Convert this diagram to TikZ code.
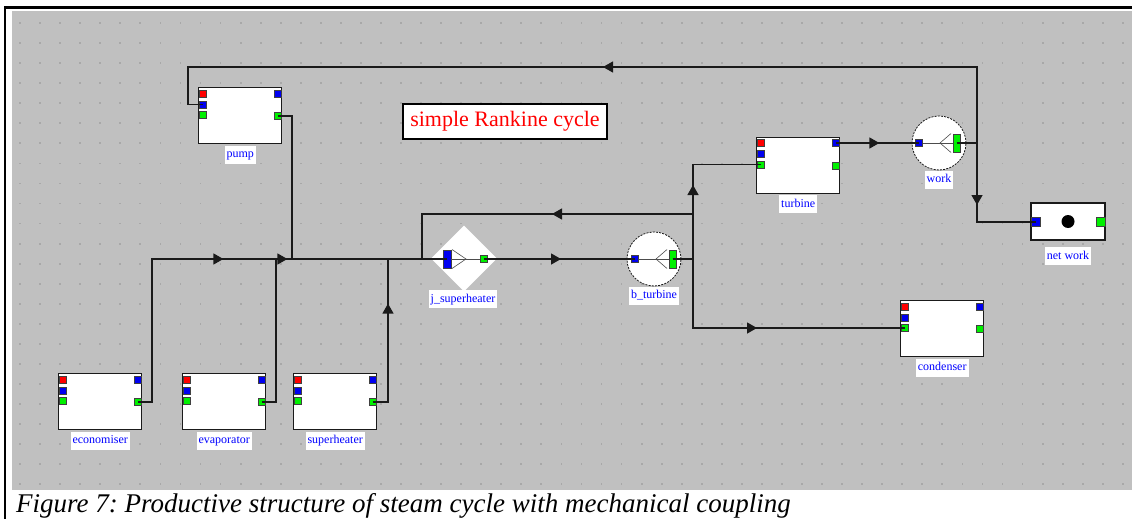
\documentclass[tikz,border=0pt]{standalone}
\usepackage{fontspec}
\setmainfont{Liberation Serif}
\usetikzlibrary{arrows.meta,decorations.markings,shapes.geometric}

\definecolor{canvas}{HTML}{C0C0C0}
\definecolor{griddot}{HTML}{A8A8A8}
\definecolor{pred}{HTML}{FF0000}
\definecolor{pblue}{HTML}{0000F0}
\definecolor{pgreen}{HTML}{00F000}
\definecolor{wire}{HTML}{1A1A1A}
\definecolor{lblue}{HTML}{0000FF}

\tikzset{
  unit/.style={draw=wire, line width=1.4pt, fill=white, minimum width=83pt,
    minimum height=56pt, inner sep=0pt, anchor=north west},
  port/.style={draw=black!75, line width=0.7pt, minimum width=7pt,
    minimum height=7pt, inner sep=0pt},
  redport/.style={port, fill=pred},
  blueport/.style={port, fill=pblue},
  greenport/.style={port, fill=pgreen},
  tallport/.style={port, minimum height=18pt},
  lbl/.style={fill=white, text=lblue, font=\fontsize{12}{12}\selectfont,
    inner xsep=2pt, inner ysep=3pt, text height=9pt, text depth=3pt, anchor=north},
  wireline/.style={draw=wire, line width=1.3pt},
  thinstroke/.style={draw=black!70, line width=0.6pt},
  flowat/.style={postaction={decorate, decoration={markings,
    mark=at position #1pt with {\arrow{Triangle[length=10pt,width=11pt]}}}}},
  splitter/.style={circle, draw=wire, line width=0.8pt, dash pattern=on 2pt off 1.2pt,
    fill=white, minimum size=54pt, inner sep=0pt},
}

% process unit: white box with three inlet and two outlet ports, and its name below
\newcommand\drawunit[4]{%
  \node[unit] (#1) at (#2,#3) {};
  \node[redport]   (#1-r)  at ([shift={(4.5,6.5)}]#1.north west) {};
  \node[blueport]  (#1-b)  at ([shift={(4.5,17.5)}]#1.north west) {};
  \node[greenport] (#1-g)  at ([shift={(4.5,28)}]#1.north west) {};
  \node[blueport]  (#1-ob) at ([shift={(-4.5,6.5)}]#1.north east) {};
  \node[greenport] (#1-og) at ([shift={(-4.5,29)}]#1.north east) {};
  \node[lbl] (#1-lbl) at ([yshift=-1pt]#1.south) {#4};
}

\begin{document}
\begin{tikzpicture}[x=1pt,y=-1pt]
\useasboundingbox (0,0) rectangle (1132,519);
\fill[white] (0,0) rectangle (1132,519);
\fill[canvas] (12,11) rectangle (1132,490);
\draw[black, line width=2.6pt] (5,519) -- (5,7.5) -- (1132,7.5);

% grid dots of the editor canvas
\foreach \i in {1,...,56}
  \foreach \j in {1,...,24}
    \fill[griddot] ({20.05*\i-0.9},{3+20.05*\j-0.9}) rectangle ++(1.8,1.8);

% process units
\drawunit{pump}{198}{87}{pump}
\drawunit{eco}{58}{373}{economiser}
\drawunit{evap}{182}{373}{evaporator}
\drawunit{sheat}{293}{373}{superheater}
\drawunit{turb}{756}{136.5}{turbine}
\drawunit{cond}{900}{300}{condenser}

% junction j_superheater
\node[diamond, fill=white, minimum width=66pt, minimum height=66pt, inner sep=0pt] (jsh) at (464,258.5) {};
\node[tallport, fill=pblue, minimum width=8pt] (jsh-in) at (447,259) {};
\node[greenport] (jsh-out) at (484,259) {};
\draw[thinstroke] (jsh-in.east) -- (jsh-out.west);
\draw[thinstroke] (452,249.5) -- (466,259) -- (452,268.5);
\node[lbl] (jsh-lbl) at (463,290) {j\_superheater};

% branch b_turbine
\node[splitter] (bt) at (654,259) {};
\node[blueport] (bt-in) at (634.5,259) {};
\node[tallport, fill=pgreen] (bt-out) at (672.5,259) {};
\draw[thinstroke] (bt-in.east) -- (bt-out.west);
\draw[thinstroke] (667,249.5) -- (656,259) -- (667,268.5);
\node[lbl] (bt-lbl) at (bt.south) {b\_turbine};

% branch work
\node[splitter] (work) at (939,143) {};
\node[blueport] (work-in) at (919,143) {};
\node[tallport, fill=pgreen] (work-out) at (956.5,143) {};
\draw[thinstroke] (work-in.east) -- (work-out.west);
\draw[thinstroke] (951,133.5) -- (940,143) -- (951,152.5);
\node[lbl] (work-lbl) at (work.south) {work};

% net work sink
\node[draw=wire, line width=1.4pt, fill=white, minimum width=74pt, minimum height=37pt, inner sep=0pt] (nw) at (1068,221.5) {};
\node[blueport, minimum size=9pt] (nw-in) at (1035.5,222) {};
\node[greenport, minimum size=9pt] (nw-out) at (1100.5,222) {};
\fill[black] (nw.center) circle (6.5);
\node[lbl] (nw-lbl) at (1068,247) {net work};

% title
\node[draw=black, line width=1.3pt, fill=white, minimum width=204pt, minimum height=35pt,
  inner sep=0pt, text=pred, font=\fontsize{22}{22}\selectfont] (title) at (505,121.5) {simple Rankine cycle};

% bend and junction points of the flow lines
\coordinate (mix) at (292,259);
\coordinate (ecoup) at (152,259);
\coordinate (evapup) at (276,259);
\coordinate (shin) at (388,259);
\coordinate (split) at (693,259);
\coordinate (ret) at (693,214);
\coordinate (retin) at (422,259);
\coordinate (wsplit) at (977,143);
\coordinate (ctop) at (977,67);
\coordinate (cleft) at (188,67);

% flows into the header
\draw[wireline, flowat=228.5] (eco-og.center) -| (ecoup) -- (mix);
\draw[wireline, flowat=168.5] (evap-og.center) -| (evapup) -- (mix);
\draw[wireline, flowat=113.5] (sheat-og.center) -| (shin);
\draw[wireline, flowat=158] (pump-og.center) -| (mix);
\draw[wireline] (mix) -- (jsh-in.center);

% superheated steam to the turbine branch
\draw[wireline, flowat=77] (jsh-out.center) -- (bt-in.center);
\draw[wireline, flowat=94.5] (bt-out.center) -- (split) |- (turb-g.center);
\draw[wireline, flowat=153.5] (bt-out.center) -- (split) |- (cond-g.center);
\draw[wireline, flowat=141] (ret) -| (retin);

% mechanical work
\draw[wireline, flowat=43.5] (turb-ob.center) -- (work-in.center);
\draw[wireline, flowat=470.5] (work-out.center) -- (wsplit) -- (ctop) -- (cleft) |- (pump-b.center);
\draw[wireline, flowat=82.5] (work-out.center) -- (wsplit) |- (nw-in.center);

% caption
\node[anchor=base west, inner sep=0pt, font=\fontsize{27}{27}\selectfont\itshape\frenchspacing] (caption) at (16,512)
  {Figure 7: Productive structure of steam cycle with mechanical coupling};
\end{tikzpicture}
\end{document}
